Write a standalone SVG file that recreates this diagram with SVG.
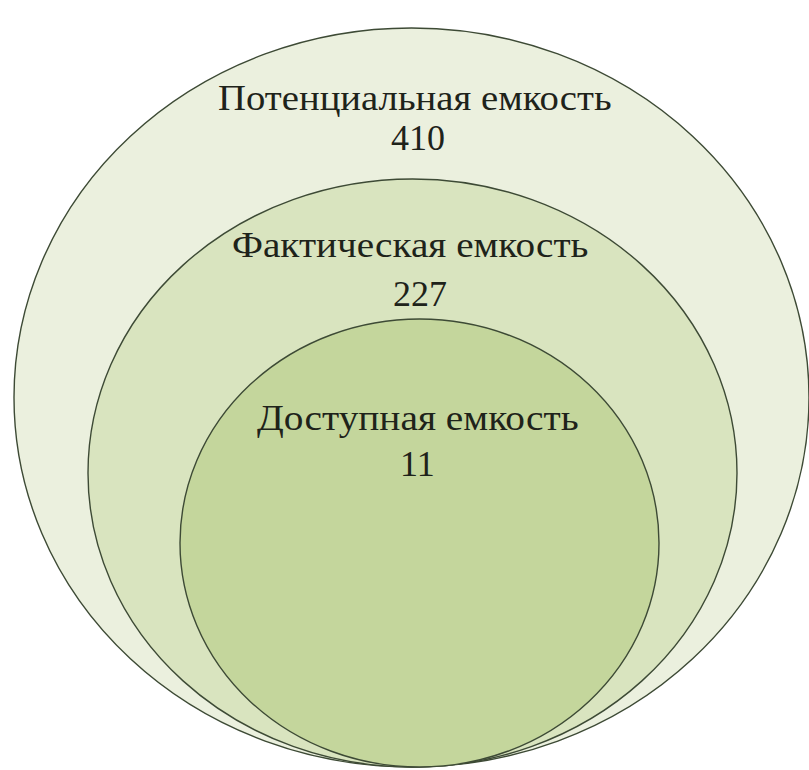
<svg xmlns="http://www.w3.org/2000/svg" width="809" height="770" viewBox="0 0 809 770">
  <rect width="809" height="770" fill="#ffffff"/>
  <!-- nested capacity ellipses share one outline; labels are set at 30px and scaled 1.2x -->
  <g stroke="#3d4a35" stroke-width="1.4">
    <g id="potential">
      <ellipse cx="411.5" cy="397.5" rx="397.5" ry="369.5" fill="#ebf0de"/>
      <g stroke="none" fill="#1e231a" font-family="Times New Roman" font-size="30">
        <text transform="translate(218 110) scale(1.2)" textLength="328" lengthAdjust="spacingAndGlyphs">Потенциальная емкость</text>
        <text transform="translate(391 150) scale(1.2)">410</text>
      </g>
    </g>
    <g id="actual">
      <ellipse cx="412.5" cy="473" rx="324.5" ry="294" fill="#d9e4bf"/>
      <g stroke="none" fill="#1e231a" font-family="Times New Roman" font-size="30">
        <text transform="translate(232 257) scale(1.2)" textLength="297" lengthAdjust="spacingAndGlyphs">Фактическая емкость</text>
        <text transform="translate(393 306) scale(1.2)">227</text>
      </g>
    </g>
    <g id="available">
      <ellipse cx="419.5" cy="543" rx="239.5" ry="224" fill="#c4d69c"/>
      <g stroke="none" fill="#1e231a" font-family="Times New Roman" font-size="30">
        <text transform="translate(257 430) scale(1.2)" textLength="268" lengthAdjust="spacingAndGlyphs">Доступная емкость</text>
        <text transform="translate(400 476) scale(1.2)">11</text>
      </g>
    </g>
  </g>
</svg>
